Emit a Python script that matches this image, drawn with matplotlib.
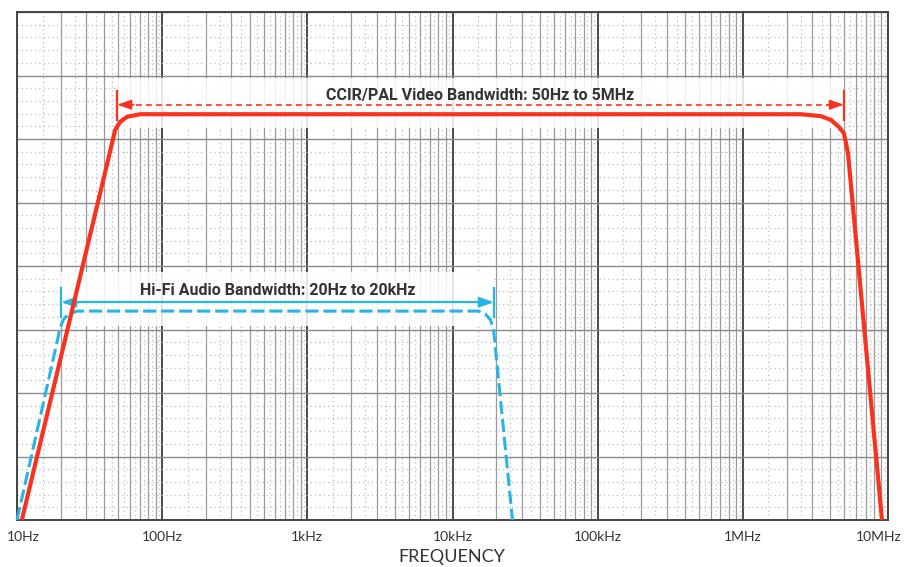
import numpy as np
import matplotlib
matplotlib.use("Agg")
from matplotlib import pyplot as plt
from matplotlib.ticker import FixedLocator, LogLocator, NullFormatter
from matplotlib.transforms import ScaledTranslation

# Frequency axis ticks
tick_freqs = [10, 100, 1e3, 1e4, 1e5, 1e6, 1e7]
tick_labels = ["10Hz", "100Hz", "1kHz", "10kHz", "100kHz", "1MHz", "10MHz"]

# Video (CCIR/PAL) response
video_freq = [10.8, 42.4, 47.4, 51.3, 57.4, 70.5, 2.51e6, 3.45e6, 4.05e6, 4.59e6, 4.97e6, 5.30e6, 9.09e6]
video_level = [0, 5.67, 6.14, 6.27, 6.35, 6.39, 6.39, 6.36, 6.30, 6.19, 6.09, 5.78, 0]

# Hi-Fi audio response
audio_freq = [10, 17.7, 19.8, 20.8, 22.5, 25.9, 15.1e3, 16.9e3, 18.3e3, 19.2e3, 25.9e3]
audio_level = [0, 2.52, 3.02, 3.15, 3.24, 3.29, 3.29, 3.24, 3.15, 2.99, 0]

# Bandwidth markers: (low, high, level, text, text level)
video_band = (49, 4.97e6, 6.54, "CCIR/PAL Video Bandwidth: 50Hz to 5MHz", 6.69)
audio_band = (20.1, 19.3e3, 3.43, "Hi-Fi Audio Bandwidth: 20Hz to 20kHz", 3.61)

RED = "#f8321f"
BLUE = "#27b4e6"
TXT = "#333333"

fig = plt.figure(figsize=(9.05, 5.67), dpi=100)
ax = fig.add_axes([17 / 905, 47 / 567, 871 / 905, 508 / 567])
ax.set_xscale("log")
ax.set_xlim(10, 1e7)
ax.set_ylim(0, 8)

# grid
ax.xaxis.set_major_locator(FixedLocator(tick_freqs))
ax.xaxis.set_minor_locator(LogLocator(base=10, subs=np.arange(2, 10), numticks=20))
ax.xaxis.set_minor_formatter(NullFormatter())
ax.set_yticks(np.arange(0, 9, 1))
ax.set_yticks(np.arange(0, 8.01, 0.2), minor=True)
ax.xaxis.grid(True, which="major", color="#4a4a4a", lw=1.4, zorder=0)
ax.xaxis.grid(True, which="minor", color="#9a9a9a", lw=0.9)
ax.yaxis.grid(True, which="major", color="#8a8a8a", lw=1.0)
ax.yaxis.grid(True, which="minor", color="#bdbdbd", lw=0.9, ls=(0, (1, 2.5)))
for dec in [10, 100, 1e3, 1e4, 1e5, 1e6]:
    for m in np.arange(1.5, 10, 1.0):
        ax.axvline(dec * m, color="#bdbdbd", lw=0.9, ls=(0, (1, 2.5)), zorder=0.5)
ax.set_axisbelow(True)
ax.tick_params(which="both", length=0)
ax.set_yticklabels([])
for s in ax.spines.values():
    s.set_color("#444444")
    s.set_linewidth(1.4)

ax.set_xticklabels(tick_labels, fontsize=10, color=TXT, family=["Lato", "DejaVu Sans"])
ax.tick_params(axis="x", pad=8)
lbls = ax.get_xticklabels()
lbls[0].set_transform(lbls[0].get_transform() + ScaledTranslation(6 / 100, 0, fig.dpi_scale_trans))
lbls[-1].set_transform(lbls[-1].get_transform() + ScaledTranslation(-9 / 100, 0, fig.dpi_scale_trans))

fig.text(452 / 905, 1 - 557 / 567, "FREQUENCY", ha="center", va="center", fontsize=13,
         color=TXT, family=["Lato", "DejaVu Sans"])

# translucent boxes behind the labels
ax.fill_between([video_band[0], video_band[1]], 6.17, 6.96, color="white", alpha=0.85, lw=0, zorder=1)
ax.fill_between([audio_band[0], audio_band[1]], 3.05, 3.9, color="white", alpha=0.85, lw=0, zorder=1)

# response curves
ax.plot(audio_freq, audio_level, color=BLUE, lw=2.2, dashes=(4.3, 1.6), zorder=3,
        solid_joinstyle="round", clip_on=False)
ax.plot(video_freq, video_level, color=RED, lw=3.0, zorder=5, solid_joinstyle="round",
        solid_capstyle="butt", clip_on=False)


def band_arrow(band, color, dashed):
    lo, hi, lev, text, tlev = band
    ls = (0, (3.5, 2.5)) if dashed else "-"
    lw = 1.2 if dashed else 1.6
    ax.plot([lo * 1.15, hi / 1.15], [lev, lev], color=color, lw=lw, ls=ls, zorder=4)
    for end, start in [(lo, lo * 1.3), (hi, hi / 1.3)]:
        ax.annotate("", xy=(end, lev), xytext=(start, lev), zorder=4,
                    arrowprops=dict(arrowstyle="-|>,head_length=0.85,head_width=0.3",
                                    color=color, lw=lw, shrinkA=0, shrinkB=0))
        ax.plot([end, end], [lev - 0.24, lev + 0.22], color=color, lw=1.6, zorder=4)
    mid = np.sqrt(lo * hi)
    ax.text(mid, tlev, text, ha="center", va="center", fontsize=11.5, fontweight="bold",
            color=TXT, family=["Roboto", "DejaVu Sans"], zorder=6)


band_arrow(video_band, RED, True)
band_arrow(audio_band, BLUE, False)

fig.savefig("out.png", dpi=100)
